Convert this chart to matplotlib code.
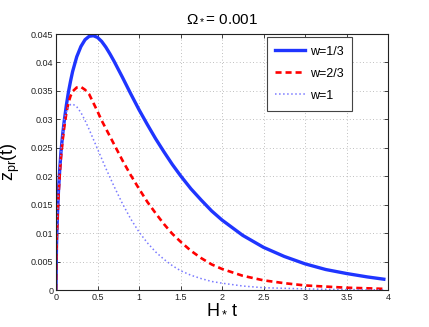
import numpy as np
import matplotlib
matplotlib.use('Agg')
import matplotlib.pyplot as plt

plt.rcParams['font.family'] = ['Liberation Sans', 'DejaVu Sans']
plt.rcParams['mathtext.fontset'] = 'custom'
plt.rcParams['mathtext.rm'] = 'Liberation Sans'
plt.rcParams['mathtext.it'] = 'Liberation Sans'
plt.rcParams['mathtext.bf'] = 'Liberation Sans:bold'

# values
t = [0, 0.005, 0.01, 0.02, 0.03, 0.045, 0.06, 0.08, 0.1, 0.125, 0.15, 0.175, 0.2,
     0.25, 0.3, 0.35, 0.4, 0.45, 0.5, 0.55, 0.6, 0.65, 0.7, 0.8, 0.9, 1.0, 1.1,
     1.2, 1.3, 1.4, 1.5, 1.625, 1.75, 1.875, 2.0, 2.25, 2.5, 2.75, 3.0, 3.25, 3.5,
     3.75, 3.95]
z_w13 = [0, 0.0070, 0.0100, 0.0142, 0.0175, 0.0212, 0.0243, 0.0273, 0.0298, 0.0325,
         0.0348, 0.0367, 0.0384, 0.0410, 0.0428, 0.0440, 0.0446, 0.0447, 0.0444,
         0.0437, 0.0427, 0.0415, 0.0402, 0.0374, 0.0345, 0.0317, 0.0291, 0.0266,
         0.0243, 0.0221, 0.0201, 0.0178, 0.0158, 0.0139, 0.0123, 0.0096, 0.0075,
         0.0059, 0.0046, 0.0036, 0.0029, 0.0023, 0.0019]
z_w23 = [0, 0.0065, 0.0093, 0.0133, 0.0165, 0.0203, 0.0233, 0.0263, 0.0287, 0.0311,
         0.0329, 0.0341, 0.0349, 0.0356, 0.0357, 0.0352, 0.0344, 0.0329, 0.0314,
         0.0298, 0.0284, 0.0270, 0.0256, 0.0228, 0.0202, 0.0178, 0.0155, 0.0135,
         0.0116, 0.0099, 0.0085, 0.0069, 0.0056, 0.0045, 0.0037, 0.0025, 0.0017,
         0.0012, 0.0008, 0.0006, 0.0004, 0.0003, 0.0002]
z_w1 = [0, 0.0072, 0.0102, 0.0145, 0.0178, 0.0215, 0.0243, 0.0274, 0.0300, 0.0313,
        0.0322, 0.0326, 0.0327, 0.0322, 0.0312, 0.0298, 0.0282, 0.0265, 0.0248,
        0.0231, 0.0214, 0.0198, 0.0182, 0.0152, 0.0125, 0.0102, 0.0083, 0.0067,
        0.0054, 0.0043, 0.0034, 0.0026, 0.0020, 0.0015, 0.0012, 0.0007, 0.0004,
        0.0003, 0.0002, 0.00012, 0.00008, 0.00005, 0.00003]
labels = ['w=1/3', 'w=2/3', 'w=1']

fig = plt.figure(figsize=(4.29, 3.27), dpi=100)
ax = fig.add_axes([56/429, 1-290/327, 332/429, 256/327])

ax.plot(t, z_w13, '-', color='#1f35ff', lw=2.4, label=labels[0])
ax.plot(t, z_w23, '--', color='#ff0000', lw=1.9, dashes=(2.3, 1.5), label=labels[1])
ax.plot(t, z_w1, ':', color='#7a7aff', lw=1.1, label=labels[2])

ax.set_xlim(0, 4)
ax.set_ylim(0, 0.045)
ax.set_xticks(np.arange(0, 4.01, 0.5))
ax.set_xticklabels(['0', '0.5', '1', '1.5', '2', '2.5', '3', '3.5', '4'])
ax.set_yticks(np.arange(0, 0.0451, 0.005))
ax.set_yticklabels(['0', '0.005', '0.01', '0.015', '0.02', '0.025', '0.03',
                    '0.035', '0.04', '0.045'])
ax.tick_params(direction='in', length=3, width=0.6, labelsize=6.5, pad=2,
               top=True, right=True, colors='#222222')
for s in ax.spines.values():
    s.set_linewidth(0.8)
    s.set_color('#222222')
ax.grid(True, ls=(0, (1, 3)), color='#aaaaaa', lw=0.6)

ax.set_title(r'$\Omega_*$= 0.001', fontsize=11, pad=9)
ax.set_xlabel(r'$H_*\,t$', fontsize=13, labelpad=-1)
ax.set_ylabel(r'$z_{pr}(t)$', fontsize=13, labelpad=6)

leg = ax.legend(loc='upper right', bbox_to_anchor=(0.892, 0.988), fontsize=9,
                handlelength=2.4, borderpad=0.7, labelspacing=0.8, fancybox=False,
                framealpha=1, edgecolor='#444444', handletextpad=0.35,
                borderaxespad=0)
leg.get_frame().set_linewidth(0.8)

fig.savefig('out.png', dpi=100)
